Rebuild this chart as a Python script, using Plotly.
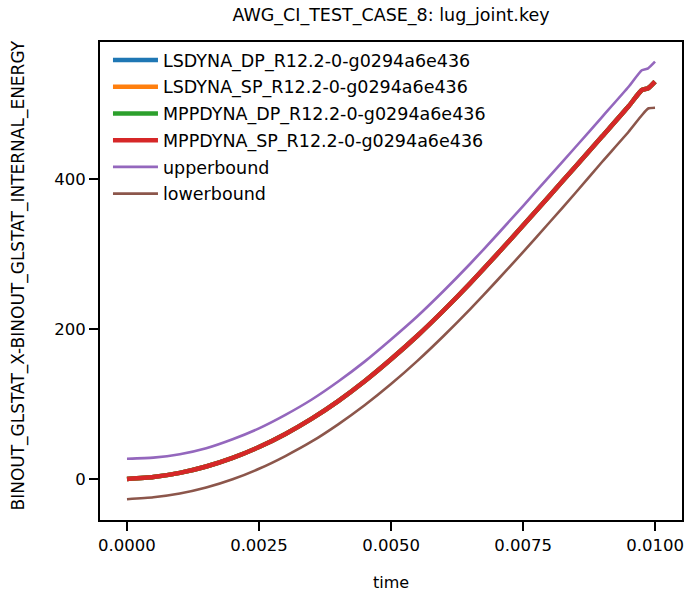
import plotly.graph_objects as go

time = [0, 0.0005, 0.001, 0.0015, 0.002, 0.0025, 0.003, 0.0035, 0.004, 0.0045,
        0.005, 0.0055, 0.006, 0.0065, 0.007, 0.0075, 0.008, 0.0085, 0.009, 0.0095,
        0.00975, 0.00987, 0.01]

sim_energy = [0, 2.6, 8.1, 16.6, 28.1, 42.6, 60.1, 80.5, 103.9, 130.3,
              159.6, 191, 225, 261, 299, 338, 377.5, 417, 457, 497,
              518.7, 521, 529.8]

upperbound = [27, 28.5, 33, 41, 53, 67.5, 85.5, 106, 130, 156.5,
              186, 217, 251, 287, 325, 364, 403.5, 443, 483, 523,
              545, 547.6, 556.4]

lowerbound = [-27, -24.4, -19.4, -11.4, -0.4, 13.6, 30.6, 50, 72.9, 98.3,
              126.6, 157.5, 191, 226.5, 264, 302.5, 342, 382, 423, 463,
              485, 494, 495]

sim_names = ["LSDYNA_DP_R12.2-0-g0294a6e436", "LSDYNA_SP_R12.2-0-g0294a6e436",
             "MPPDYNA_DP_R12.2-0-g0294a6e436", "MPPDYNA_SP_R12.2-0-g0294a6e436"]
sim_colors = ["#1f77b4", "#ff7f0e", "#2ca02c", "#d62728"]

x_ticks = [0, 0.0025, 0.005, 0.0075, 0.01]
x_tick_labels = ["0.0000", "0.0025", "0.0050", "0.0075", "0.0100"]
y_ticks = [0, 200, 400]

fig = go.Figure()
for i, (name, col) in enumerate(zip(sim_names, sim_colors)):
    fig.add_trace(go.Scatter(x=time, y=sim_energy, mode="lines", name=name,
                             line=dict(color=col, width=4.5, shape="spline", smoothing=0.5),
                             legendgroup=str(i)))
fig.add_trace(go.Scatter(x=time, y=upperbound, mode="lines", name="upperbound",
                         line=dict(color="#9467bd", width=2.6, shape="spline", smoothing=0.5),
                         legendgroup="u"))
fig.add_trace(go.Scatter(x=time, y=lowerbound, mode="lines", name="lowerbound",
                         line=dict(color="#8c564b", width=2.6, shape="spline", smoothing=0.5),
                         legendgroup="l"))

font = "DejaVu Sans"
axis_common = dict(showline=True, linecolor="black", linewidth=2, mirror=True,
                   ticks="outside", ticklen=9, tickwidth=1.8, tickcolor="black",
                   showgrid=False, zeroline=False, automargin=False,
                   tickfont=dict(family=font, size=16.5, color="black"))

W, H = 688, 599
ML, MR, MT, MB = 100, 6, 42, 79
plot_w = W - ML - MR
plot_h = H - MT - MB

fig.update_layout(
    width=W, height=H,
    margin=dict(l=ML, r=MR, t=MT, b=MB),
    plot_bgcolor="white", paper_bgcolor="white",
    title=dict(text="AWG_CI_TEST_CASE_8: lug_joint.key", x=(ML + plot_w / 2) / W,
               xanchor="center", y=1 - 15 / H, yanchor="middle",
               font=dict(family=font, size=17.5, color="black")),
    xaxis=dict(range=[-0.000511, 0.010511], tickvals=x_ticks, ticktext=x_tick_labels,
               **axis_common),
    yaxis=dict(range=[-54.7, 582.7], tickvals=y_ticks, **axis_common),
    legend=dict(x=0.0137, y=1.0, xanchor="left", yanchor="top",
                bgcolor="rgba(255,255,255,0.8)", borderwidth=0,
                font=dict(family=font, size=17.5, color="black"),
                itemwidth=45, tracegroupgap=1),
    showlegend=True,
    annotations=[
        dict(text="time", xref="paper", yref="paper", x=0.5, y=-(582 - (MT + plot_h)) / plot_h,
             xanchor="center", yanchor="middle", showarrow=False,
             font=dict(family=font, size=16, color="black")),
        dict(text="BINOUT_GLSTAT_X-BINOUT_GLSTAT_INTERNAL_ENERGY", xref="paper", yref="paper",
             x=-(ML - 18) / plot_w, y=0.5 + 5.5 / plot_h, textangle=-90,
             xanchor="center", yanchor="middle", showarrow=False,
             font=dict(family=font, size=17, color="black")),
    ],
)

fig.write_html("out.html", config={"displayModeBar": False},
               post_script="document.body.style.margin='0';document.body.style.overflow='hidden';")
